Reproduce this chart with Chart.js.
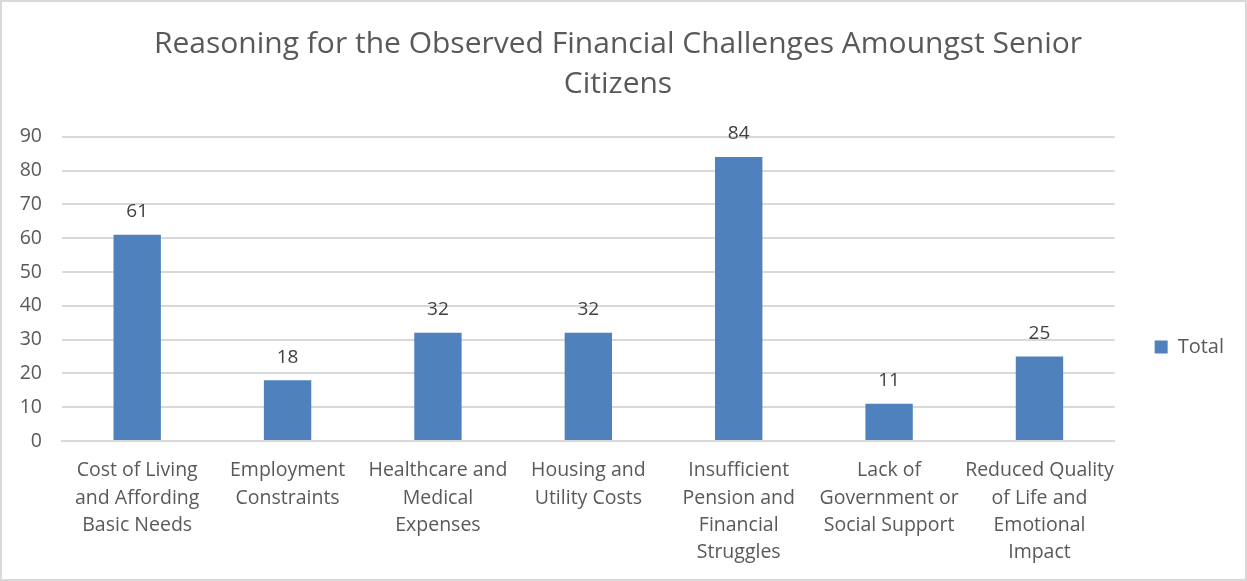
<!DOCTYPE html>
<html lang="en">
<head>
    <meta charset="UTF-8">
    <title>Reasoning for the Observed Financial Challenges</title>
    <script src="https://cdn.jsdelivr.net/npm/chart.js"></script>
    <style>
        html, body {
            margin: 0;
            padding: 0;
            background: #ffffff;
        }
        .chart-box {
            width: 1247px;
            height: 581px;
            box-sizing: border-box;
            border: 2px solid #d9d9d9;
            position: relative;
        }
    </style>
</head>
<body>
    <div class="chart-box">
        <canvas id="barChart"></canvas>
    </div>

    <script>
        // categories (multi-line labels) and counts
        const categories = [
            ['Cost of Living', 'and Affording', 'Basic Needs'],
            ['Employment', 'Constraints'],
            ['Healthcare and', 'Medical', 'Expenses'],
            ['Housing and', 'Utility Costs'],
            ['Insufficient', 'Pension and', 'Financial', 'Struggles'],
            ['Lack of', 'Government or', 'Social Support'],
            ['Reduced Quality', 'of Life and', 'Emotional', 'Impact']
        ];
        const totals = [61, 18, 32, 32, 84, 11, 25];
        const yTicks = [0, 10, 20, 30, 40, 50, 60, 70, 80, 90];

        const textColor = '#595959';
        const fontFamily = '"Open Sans", Lato, sans-serif';

        // writes the value above each bar
        const valueLabels = {
            id: 'valueLabels',
            afterDatasetsDraw(chart) {
                const ctx = chart.ctx;
                ctx.save();
                ctx.font = '19px ' + fontFamily;
                ctx.fillStyle = '#404040';
                ctx.textAlign = 'center';
                ctx.textBaseline = 'middle';
                chart.getDatasetMeta(0).data.forEach((bar, i) => {
                    ctx.fillText(String(totals[i]), bar.x, bar.y - 23);
                });
                ctx.restore();
            }
        };

        var ctx = document.getElementById('barChart').getContext('2d');
        var chart = new Chart(ctx, {
            type: 'bar',
            data: {
                labels: categories,
                datasets: [{
                    label: 'Total',
                    data: totals,
                    backgroundColor: '#4f81bd',
                    borderWidth: 0,
                    categoryPercentage: 1,
                    barPercentage: 0.315
                }]
            },
            options: {
                responsive: true,
                maintainAspectRatio: false,
                animation: false,
                layout: {
                    padding: { left: 0, right: 11, top: 0, bottom: 0 }
                },
                plugins: {
                    title: {
                        display: true,
                        text: ['Reasoning for the Observed Financial Challenges Amoungst Senior', 'Citizens'],
                        color: textColor,
                        font: { family: fontFamily, size: 30, weight: 'normal', lineHeight: 1.33 },
                        padding: { top: 23, bottom: 32 }
                    },
                    legend: {
                        position: 'right',
                        // empty legend title pushes the entry a little below centre
                        title: {
                            display: true,
                            text: ' ',
                            font: { size: 1 },
                            padding: { top: 56, bottom: 56 }
                        },
                        labels: {
                            color: textColor,
                            font: { family: fontFamily, size: 20 },
                            boxWidth: 13,
                            boxHeight: 13,
                            padding: 40
                        }
                    },
                    tooltip: { enabled: false }
                },
                scales: {
                    x: {
                        afterFit(axis) {
                            axis.height = 138;
                        },
                        grid: { display: false },
                        border: { color: '#d9d9d9', width: 2 },
                        ticks: {
                            color: textColor,
                            font: { family: fontFamily, size: 19.5, lineHeight: 1.4 },
                            padding: 8,
                            maxRotation: 0,
                            autoSkip: false
                        }
                    },
                    y: {
                        min: 0,
                        max: 90,
                        afterBuildTicks(axis) {
                            axis.ticks = yTicks.map(v => ({ value: v }));
                        },
                        afterFit(axis) {
                            axis.width = 60;
                        },
                        grid: { color: '#d9d9d9', lineWidth: 2, drawTicks: false },
                        border: { display: false },
                        ticks: {
                            color: textColor,
                            font: { family: fontFamily, size: 19.5 },
                            padding: 20
                        }
                    }
                }
            },
            plugins: [valueLabels]
        });
    </script>
</body>
</html>
